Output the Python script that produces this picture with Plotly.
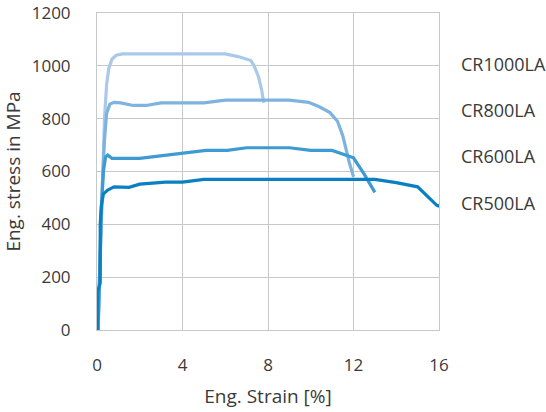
import plotly.graph_objects as go

# ---- data ----
cr1000_x = [0.05, 0.15, 0.25, 0.35, 0.45, 0.55, 0.7, 0.9, 1.2, 3.0, 5.0, 6.0, 6.6, 7.2, 7.35, 7.55, 7.7, 7.8]
cr1000_y = [0, 300, 600, 800, 930, 990, 1025, 1040, 1045, 1045, 1045, 1045, 1035, 1020, 1000, 960, 910, 860]

cr800_x = [0.05, 0.15, 0.25, 0.35, 0.45, 0.6, 0.8, 1.1, 1.7, 2.3, 3.0, 5.0, 6.0, 9.0, 9.9, 10.4, 10.9, 11.25, 11.5, 11.8, 11.95, 12.0]
cr800_y = [0, 300, 550, 720, 820, 855, 862, 860, 850, 850, 860, 860, 870, 870, 862, 845, 823, 790, 735, 635, 590, 580]

cr600_x = [0.05, 0.12, 0.2, 0.3, 0.4, 0.5, 0.7, 2.0, 3.5, 5.1, 6.1, 7.0, 9.0, 10.0, 11.0, 12.0, 12.5, 13.0]
cr600_y = [0, 250, 450, 600, 655, 662, 650, 650, 665, 680, 680, 690, 690, 680, 680, 652, 590, 521]

cr500_x = [0.03, 0.03, 0.15, 0.15, 0.2, 0.3, 0.5, 0.8, 1.5, 2.0, 3.2, 4.0, 5.0, 13.0, 14.0, 15.0, 15.9, 16.05]
cr500_y = [0, 145, 178, 400, 470, 515, 530, 542, 540, 552, 560, 560, 570, 570, 558, 542, 472, 468]

series_names = ["CR1000LA", "CR800LA", "CR600LA", "CR500LA"]
label_y = [1006, 833, 658, 482]
x_ticks = [0, 4, 8, 12, 16]
y_ticks = [0, 200, 400, 600, 800, 1000, 1200]

colors = ["#a9c9ea", "#7db3de", "#3e9ad3", "#0a80c2"]
xs = [cr1000_x, cr800_x, cr600_x, cr500_x]
ys = [cr1000_y, cr800_y, cr600_y, cr500_y]

FONT = "Open Sans"
TXT = "#3a3a3a"
GRID = "#c6c8ca"

fig = go.Figure()
for i in [0, 1, 2, 3]:
    fig.add_trace(go.Scatter(x=xs[i], y=ys[i], mode="lines", name=series_names[i],
                             line=dict(color=colors[i], width=3.2, shape="linear"),
                             showlegend=False, hoverinfo="skip", cliponaxis=False))

for name, yv in zip(series_names, label_y):
    fig.add_annotation(x=1.0, xref="paper", y=yv, yref="y", text=name,
                       showarrow=False, xanchor="left", yanchor="middle", xshift=20,
                       font=dict(family=FONT, size=18, color=TXT))

fig.update_layout(
    width=546, height=412,
    margin=dict(l=97, r=107, t=13, b=82, autoexpand=False),
    paper_bgcolor="white", plot_bgcolor="white",
    font=dict(family=FONT, size=17, color=TXT),
    xaxis=dict(range=[0, 16], tickvals=x_ticks, ticktext=[str(v) for v in x_ticks],
               showgrid=True, gridcolor=GRID, gridwidth=1, automargin=False,
               showline=True, linecolor=GRID, mirror=True, zeroline=False,
               ticks="", ticklabelstandoff=20,
               title=dict(text="Eng. Strain [%]", standoff=14,
                          font=dict(family=FONT, size=19, color=TXT))),
    yaxis=dict(range=[0, 1200], tickvals=y_ticks, ticktext=[str(v) for v in y_ticks],
               showgrid=True, gridcolor=GRID, gridwidth=1, automargin=False,
               showline=True, linecolor=GRID, mirror=True, zeroline=False,
               ticks="", ticklabelstandoff=22,
               title=dict(text="Eng. stress in MPa", standoff=14,
                          font=dict(family=FONT, size=19, color=TXT))),
)

fig.write_html("out.html", config={"displayModeBar": False},
               post_script="document.body.style.margin='0';document.body.style.padding='0';")
